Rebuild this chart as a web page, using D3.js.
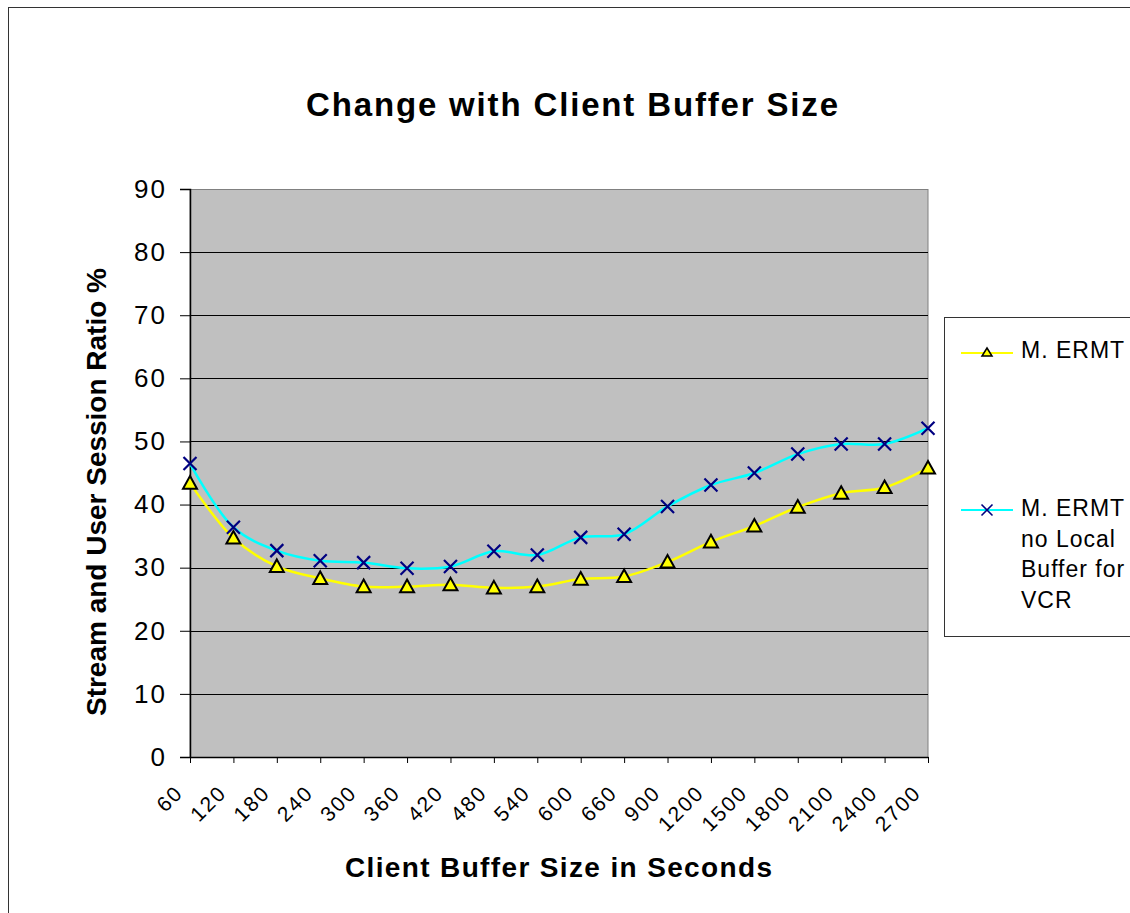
<!DOCTYPE html>
<html>
<head>
<meta charset="utf-8">
<script src="https://cdn.jsdelivr.net/npm/d3@7"></script>
<style>
  body { margin: 0; background: #fff; }
  svg { display: block; font-family: "Liberation Sans", Arial, sans-serif; }
</style>
</head>
<body>
<div id="chart"></div>
<script>
// chart data
const bufferSizes = ["60", "120", "180", "240", "300", "360", "420", "480", "540",
  "600", "660", "900", "1200", "1500", "1800", "2100", "2400", "2700"];
const ermt = [43.4, 34.7, 30.2, 28.3, 27.0, 27.0, 27.3, 26.8, 27.0,
  28.2, 28.6, 30.9, 34.1, 36.6, 39.6, 41.8, 42.7, 45.8];
const ermtNoLocal = [46.5, 36.4, 32.7, 31.1, 30.8, 29.9, 30.2, 32.6, 32.0,
  34.8, 35.3, 39.7, 43.1, 45.0, 48.0, 49.6, 49.6, 52.1];
const yTicks = [0, 10, 20, 30, 40, 50, 60, 70, 80, 90];
const legendLabels = [["M. ERMT"], ["M. ERMT", "no Local", "Buffer for", "VCR"]];

const width = 1130, height = 913;
const plot = { left: 190, top: 189, right: 928, bottom: 757 };
const font = "Liberation Sans, Arial, sans-serif";

const svg = d3.select("#chart").append("svg")
  .attr("width", width)
  .attr("height", height);

// outer chart border
svg.append("rect")
  .attr("x", 8.5).attr("y", 7.5)
  .attr("width", width + 20).attr("height", height + 20)
  .attr("fill", "#fff").attr("stroke", "#333").attr("stroke-width", 1);

const x = d3.scalePoint()
  .domain(bufferSizes)
  .range([plot.left, plot.right]);

const y = d3.scaleLinear()
  .domain([0, 90])
  .range([plot.bottom, plot.top]);

// plot area
svg.append("rect")
  .attr("x", plot.left).attr("y", plot.top + 0.5)
  .attr("width", plot.right - plot.left).attr("height", plot.bottom - plot.top)
  .attr("fill", "#c0c0c0")
  .attr("stroke", "#808080");

// gridlines
svg.append("g")
  .selectAll("line")
  .data(yTicks.filter(d => d > 0 && d < 90))
  .enter().append("line")
  .attr("x1", plot.left).attr("x2", plot.right)
  .attr("y1", d => Math.round(y(d)) + 0.5)
  .attr("y2", d => Math.round(y(d)) + 0.5)
  .attr("stroke", "#000")
  .attr("stroke-width", 1);

// y axis
const yAxis = svg.append("g")
  .attr("transform", `translate(${plot.left},0)`)
  .call(d3.axisLeft(y).tickValues(yTicks).tickSize(10).tickPadding(13));
yAxis.select(".domain").attr("stroke", "#000").attr("stroke-width", 1.5);
yAxis.selectAll(".tick line").attr("stroke", "#000");
yAxis.selectAll("text")
  .attr("font-size", "26px")
  .attr("letter-spacing", "2px")
  .attr("fill", "#000")
  .attr("font-family", font);

// x axis
const xAxis = svg.append("g")
  .attr("transform", `translate(0,${plot.bottom})`)
  .call(d3.axisBottom(x).tickSize(6).tickSizeOuter(0));
xAxis.select(".domain").attr("stroke", "#000").attr("stroke-width", 1.5);
xAxis.selectAll(".tick line").attr("stroke", "#000");
xAxis.selectAll("text")
  .attr("font-size", "21px")
  .attr("letter-spacing", "2px")
  .attr("fill", "#000")
  .attr("font-family", font)
  .attr("text-anchor", "end")
  .attr("dy", null)
  .attr("y", 0)
  .attr("transform", "translate(-6,37) rotate(-45)");

const line = d3.line()
  .x((d, i) => x(bufferSizes[i]))
  .y(d => y(d))
  .curve(d3.curveCatmullRom.alpha(0.5));

svg.append("path")
  .datum(ermtNoLocal)
  .attr("d", line)
  .attr("fill", "none")
  .attr("stroke", "#00ffff")
  .attr("stroke-width", 2.5);

svg.append("path")
  .datum(ermt)
  .attr("d", line)
  .attr("fill", "none")
  .attr("stroke", "#ffff00")
  .attr("stroke-width", 2.5);

function triangle(cx, cy, s) {
  return `M${cx},${cy - s}L${cx + s},${cy + s * 0.8}L${cx - s},${cy + s * 0.8}Z`;
}
function cross(cx, cy, s) {
  return `M${cx - s},${cy - s}L${cx + s},${cy + s}M${cx - s},${cy + s}L${cx + s},${cy - s}`;
}

svg.append("g")
  .selectAll("path")
  .data(ermtNoLocal)
  .enter().append("path")
  .attr("d", (d, i) => cross(x(bufferSizes[i]), y(d), 6.5))
  .attr("stroke", "#000080")
  .attr("stroke-width", 2.2)
  .attr("fill", "none");

svg.append("g")
  .selectAll("path")
  .data(ermt)
  .enter().append("path")
  .attr("d", (d, i) => triangle(x(bufferSizes[i]), y(d), 7))
  .attr("fill", "#ffff00")
  .attr("stroke", "#000")
  .attr("stroke-width", 2);

// titles
svg.append("text")
  .attr("x", 306).attr("y", 116)
  .attr("font-size", "33px")
  .attr("font-weight", "bold")
  .attr("textLength", 532)
  .attr("lengthAdjust", "spacing")
  .text("Change with Client Buffer Size");

svg.append("text")
  .attr("x", 345).attr("y", 877)
  .attr("font-size", "28px")
  .attr("font-weight", "bold")
  .attr("textLength", 427)
  .attr("lengthAdjust", "spacing")
  .text("Client Buffer Size in Seconds");

svg.append("text")
  .attr("transform", "translate(106,716) rotate(-90)")
  .attr("font-size", "28px")
  .attr("font-weight", "bold")
  .attr("textLength", 448)
  .attr("lengthAdjust", "spacing")
  .text("Stream and User Session Ratio %");

// legend
const legend = svg.append("g");
legend.append("rect")
  .attr("x", 944.5).attr("y", 317.5)
  .attr("width", 200).attr("height", 319)
  .attr("fill", "#fff").attr("stroke", "#333");

legend.append("line")
  .attr("x1", 961).attr("x2", 1013).attr("y1", 353).attr("y2", 353)
  .attr("stroke", "#ffff00").attr("stroke-width", 2);
legend.append("path")
  .attr("d", "M987,348L992,356L982,356Z")
  .attr("fill", "#ffff00").attr("stroke", "#000").attr("stroke-width", 1.5);

legend.append("line")
  .attr("x1", 961).attr("x2", 1013).attr("y1", 510).attr("y2", 510)
  .attr("stroke", "#00ffff").attr("stroke-width", 2);
legend.append("path")
  .attr("d", cross(987, 510, 5.5))
  .attr("stroke", "#000080").attr("stroke-width", 1.6).attr("fill", "none");

const legendBaselines = [[358], [516, 547, 577, 608]];
legendLabels.forEach((lines, k) => {
  lines.forEach((t, i) => {
    legend.append("text")
      .attr("x", 1021).attr("y", legendBaselines[k][i])
      .attr("font-size", "23px")
      .attr("letter-spacing", "1px")
      .text(t);
  });
});
</script>
</body>
</html>
